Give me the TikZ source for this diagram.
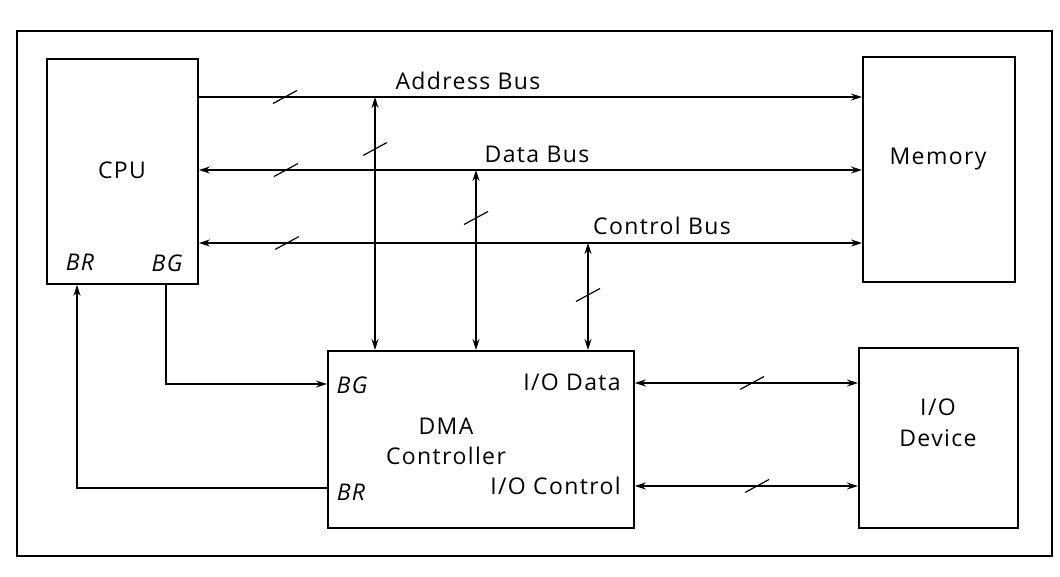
\documentclass[tikz,border=0pt]{standalone}
\usepackage{fontspec}
\setmainfont[LetterSpace=6]{Open Sans}
\usetikzlibrary{arrows.meta}
\begin{document}
\begin{tikzpicture}[x=1pt,y=-1pt,
  lbl/.style={font=\fontsize{23}{27}\selectfont, inner sep=0pt},
  ilbl/.style={font=\fontsize{23}{27}\selectfont\itshape, inner sep=0pt},
  box/.style={draw, line width=1.8pt, inner sep=0pt, anchor=north west},
  wire/.style={line width=1.4pt},
  tip/.style={-{Stealth[length=11pt,width=7pt]}},
  dtip/.style={{Stealth[length=11pt,width=7pt]}-{Stealth[length=11pt,width=7pt]}},
  slash/.style={line width=1.2pt}]
\useasboundingbox (0,0) rectangle (1060,576);
\fill[white] (0,0) rectangle (1060,576);
% outer frame
\draw[line width=1.7pt] (17,31) rectangle (1052,556);
% boxes
\node[box, minimum width=151pt, minimum height=225pt] (cpu) at (46,58) {};
\node[box, minimum width=152pt, minimum height=225pt] (mem) at (862,56) {};
\node[box, minimum width=306pt, minimum height=177pt] (dma) at (327,350) {};
\node[box, minimum width=159pt, minimum height=180pt] (io) at (858,347) {};
% box labels
\node[lbl, anchor=base] (cpuL) at (122,178) {CPU};
\node[ilbl, anchor=base] (cpuBR) at (80,270) {BR};
\node[ilbl, anchor=base] (cpuBG) at (167,271) {BG};
\node[lbl, anchor=base] (memL) at (938,164) {Memory};
\node[lbl, anchor=base] (dmaL1) at (446,434) {DMA};
\node[lbl, anchor=base] (dmaL2) at (446,464) {Controller};
\node[ilbl, anchor=base] (dmaBG) at (352,393) {BG};
\node[ilbl, anchor=base] (dmaBR) at (351,500) {BR};
\node[lbl, anchor=base east] (dmaIOD) at (621,390) {I/O Data};
\node[lbl, anchor=base east] (dmaIOC) at (621,494) {I/O Control};
\node[lbl, anchor=base] (ioL1) at (938,415) {I/O};
\node[lbl, anchor=base] (ioL2) at (938,446) {Device};
% bus levels
\coordinate (yA) at (0,97);
\coordinate (yD) at (0,170);
\coordinate (yC) at (0,243);
\coordinate (yIOD) at (0,383);
\coordinate (yIOC) at (0,486);
% buses
\draw[wire, tip] (cpu.east |- yA) -- (mem.west |- yA);
\draw[wire, dtip] (cpu.east |- yD) -- (mem.west |- yD);
\draw[wire, dtip] (cpu.east |- yC) -- (mem.west |- yC);
\node[lbl, anchor=base] (abL) at (468,89) {Address Bus};
\node[lbl, anchor=base] (dbL) at (537,162) {Data Bus};
\node[lbl, anchor=base] (cbL) at (662,234) {Control Bus};
% taps to DMA
\coordinate (tA) at (375,97);
\coordinate (tD) at (476,170);
\coordinate (tC) at (588,243);
\draw[wire, dtip] (tA) -- (tA |- dma.north);
\draw[wire, dtip] (tD) -- (tD |- dma.north);
\draw[wire, dtip] (tC) -- (tC |- dma.north);
% I/O links
\draw[wire, dtip] (dma.east |- yIOD) -- (io.west |- yIOD);
\draw[wire, dtip] (dma.east |- yIOC) -- (io.west |- yIOC);
% BG and BR
\coordinate (bgX) at (166,0);
\coordinate (bgY) at (0,384);
\coordinate (brX) at (77,0);
\coordinate (brY) at (0,488);
\draw[wire, tip] (bgX |- cpu.south) -- (bgX |- bgY) -- (dma.west |- bgY);
\draw[wire, tip] (dma.west |- brY) -- (brX |- brY) -- (brX |- cpu.south);
% slash marks
\foreach \p in {(285,97),(286,170),(287,243),(375,149),(476,218),(588,295),(752,383),(757,486)}
  \draw[slash] \p ++(-12,6.5) -- ++(24,-13);
\end{tikzpicture}
\end{document}
